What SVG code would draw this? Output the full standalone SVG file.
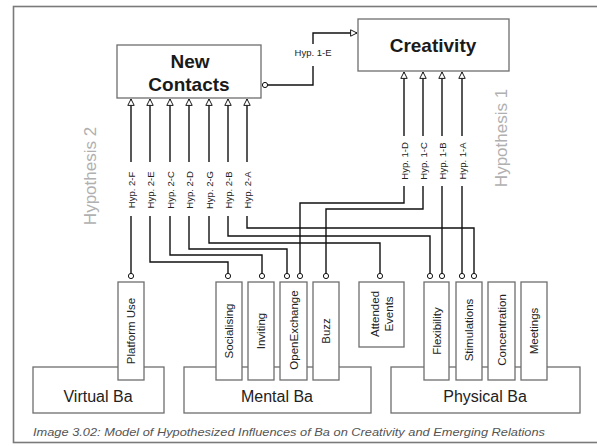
<svg xmlns="http://www.w3.org/2000/svg" width="597" height="446" viewBox="0 0 597 446">
<defs>
<style>
.frame{fill:#fff;stroke:#7a7a7a;stroke-width:1.6}
.box{fill:#fff;stroke:#6e6e6e;stroke-width:1.3}
.title{font-family:"Liberation Sans",Arial,sans-serif;font-weight:bold;font-size:19px;fill:#1a1a1a;text-anchor:middle}
.ba{font-family:"Liberation Sans",Arial,sans-serif;font-size:16px;fill:#222;text-anchor:middle}
.attr{font-family:"Liberation Sans",Arial,sans-serif;font-size:11.5px;fill:#222;text-anchor:middle}
.hyp{font-family:"Liberation Sans",Arial,sans-serif;font-size:9.5px;fill:#222;text-anchor:middle}
.hlab{font-family:"Liberation Sans",Arial,sans-serif;font-size:17px;fill:#b0b0b0;text-anchor:middle}
.cap{font-family:"Liberation Sans",Arial,sans-serif;font-size:11px;font-style:italic;fill:#555}
.ln{fill:none;stroke:#111;stroke-width:1.4}
.dot{fill:#fff;stroke:#111;stroke-width:1}
</style>
<marker id="arr" viewBox="0 0 10 10" refX="9" refY="5" markerWidth="8" markerHeight="8" markerUnits="userSpaceOnUse" orient="auto">
<path d="M1,1 L9,5 L1,9 Z" fill="#fff" stroke="#111" stroke-width="1.2"/>
</marker>
</defs>
<rect class="frame" x="13.5" y="6.5" width="600" height="436"/>

<g id="new-contacts">
<rect class="box" x="117" y="45" width="144" height="53"/>
<text class="title" x="190" y="68">New</text>
<text class="title" x="189" y="91">Contacts</text>
</g>
<g id="creativity">
<rect class="box" x="358" y="19" width="151" height="52"/>
<text class="title" x="433" y="52">Creativity</text>
</g>

<g id="virtual-ba">
<rect class="box" x="33" y="367" width="131" height="46"/>
<text class="ba" x="98" y="402">Virtual Ba</text>
</g>
<g id="mental-ba">
<rect class="box" x="184" y="367" width="187" height="46"/>
<text class="ba" x="277" y="402">Mental Ba</text>
</g>
<g id="physical-ba">
<rect class="box" x="391" y="367" width="189" height="46"/>
<text class="ba" x="485" y="402">Physical Ba</text>
</g>

<g id="platform-use"><rect class="box" x="118" y="282" width="26" height="98"/><text class="attr" transform="translate(135,331) rotate(-90)">Platform Use</text></g>
<g id="socialising"><rect class="box" x="216" y="282" width="26" height="98"/><text class="attr" transform="translate(233,331) rotate(-90)">Socialising</text></g>
<g id="inviting"><rect class="box" x="248" y="282" width="26" height="98"/><text class="attr" transform="translate(265,331) rotate(-90)">Inviting</text></g>
<g id="openexchange"><rect class="box" x="280" y="282" width="27" height="98"/><text class="attr" transform="translate(297.5,330) rotate(-90)">OpenExchange</text></g>
<g id="buzz"><rect class="box" x="313" y="282" width="26" height="98"/><text class="attr" transform="translate(330,331) rotate(-90)">Buzz</text></g>
<g id="attended-events"><rect class="box" x="359" y="282" width="45" height="65"/><text class="attr" transform="translate(379,314) rotate(-90)">Attended</text><text class="attr" transform="translate(393,314) rotate(-90)">Events</text></g>
<g id="flexibility"><rect class="box" x="424" y="282" width="25" height="98"/><text class="attr" transform="translate(440.5,331) rotate(-90)">Flexibility</text></g>
<g id="stimulations"><rect class="box" x="456" y="282" width="26" height="98"/><text class="attr" transform="translate(473,330) rotate(-90)">Stimulations</text></g>
<g id="concentration"><rect class="box" x="488" y="282" width="27" height="98"/><text class="attr" transform="translate(505.5,330) rotate(-90)">Concentration</text></g>
<g id="meetings"><rect class="box" x="521" y="282" width="26" height="98"/><text class="attr" transform="translate(538,331) rotate(-90)">Meetings</text></g>

<g id="connectors">
<!-- Hyp 1-E -->
<circle class="dot" cx="265" cy="85" r="2.6"/>
<path class="ln" d="M267.6,85 H313 V66"/>
<path class="ln" d="M313,44 V33 H357" marker-end="url(#arr)"/>
<text class="hyp" x="313" y="55.5">Hyp.  1-E</text>

<!-- Hyp 2 arrows up -->
<path class="ln" d="M131,162 V99" marker-end="url(#arr)"/>
<path class="ln" d="M150,162 V99" marker-end="url(#arr)"/>
<path class="ln" d="M170,162 V99" marker-end="url(#arr)"/>
<path class="ln" d="M189,162 V99" marker-end="url(#arr)"/>
<path class="ln" d="M209,162 V99" marker-end="url(#arr)"/>
<path class="ln" d="M228,162 V99" marker-end="url(#arr)"/>
<path class="ln" d="M247,162 V99" marker-end="url(#arr)"/>
<text class="hyp" transform="translate(134.5,190) rotate(-90)">Hyp. 2-F</text>
<text class="hyp" transform="translate(153.5,190) rotate(-90)">Hyp. 2-E</text>
<text class="hyp" transform="translate(173.5,190) rotate(-90)">Hyp. 2-C</text>
<text class="hyp" transform="translate(192.5,190) rotate(-90)">Hyp. 2-D</text>
<text class="hyp" transform="translate(212.5,190) rotate(-90)">Hyp. 2-G</text>
<text class="hyp" transform="translate(231.5,190) rotate(-90)">Hyp. 2-B</text>
<text class="hyp" transform="translate(250.5,190) rotate(-90)">Hyp. 2-A</text>
<!-- Hyp 2 lower routes -->
<path class="ln" d="M131,216 V273.4"/>
<path class="ln" d="M150,216 V262 H228 V273.4"/>
<path class="ln" d="M170,216 V255 H262 V273.4"/>
<path class="ln" d="M189,216 V249 H287 V273.4"/>
<path class="ln" d="M209,216 V243 H380 V273.4"/>
<path class="ln" d="M228,216 V236 H430 V273.4"/>
<path class="ln" d="M247,216 V228 H474 V273.4"/>

<!-- Hyp 1 arrows up -->
<path class="ln" d="M404,136 V72" marker-end="url(#arr)"/>
<path class="ln" d="M423,136 V72" marker-end="url(#arr)"/>
<path class="ln" d="M442,136 V72" marker-end="url(#arr)"/>
<path class="ln" d="M462,136 V72" marker-end="url(#arr)"/>
<text class="hyp" transform="translate(407.5,161) rotate(-90)">Hyp. 1-D</text>
<text class="hyp" transform="translate(426.5,161) rotate(-90)">Hyp. 1-C</text>
<text class="hyp" transform="translate(445.5,161) rotate(-90)">Hyp. 1-B</text>
<text class="hyp" transform="translate(465.5,161) rotate(-90)">Hyp. 1-A</text>
<path class="ln" d="M404,186 V203 H300 V273.4"/>
<path class="ln" d="M423,186 V209 H326 V273.4"/>
<path class="ln" d="M442,186 V273.4"/>
<path class="ln" d="M462,186 V273.4"/>

<!-- end dots -->
<circle class="dot" cx="131" cy="276" r="2.6"/>
<circle class="dot" cx="228" cy="276" r="2.6"/>
<circle class="dot" cx="262" cy="276" r="2.6"/>
<circle class="dot" cx="287" cy="276" r="2.6"/>
<circle class="dot" cx="300" cy="276" r="2.6"/>
<circle class="dot" cx="326" cy="276" r="2.6"/>
<circle class="dot" cx="380" cy="276" r="2.6"/>
<circle class="dot" cx="430" cy="276" r="2.6"/>
<circle class="dot" cx="442" cy="276" r="2.6"/>
<circle class="dot" cx="462" cy="276" r="2.6"/>
<circle class="dot" cx="474" cy="276" r="2.6"/>
</g>

<text class="hlab" transform="translate(96,176) rotate(-90)">Hypothesis 2</text>
<text class="hlab" transform="translate(507,138) rotate(-90)">Hypothesis 1</text>

<text class="cap" x="33" y="436" textLength="512" lengthAdjust="spacingAndGlyphs">Image 3.02: Model of Hypothesized Influences of Ba on Creativity and Emerging Relations</text>
</svg>
